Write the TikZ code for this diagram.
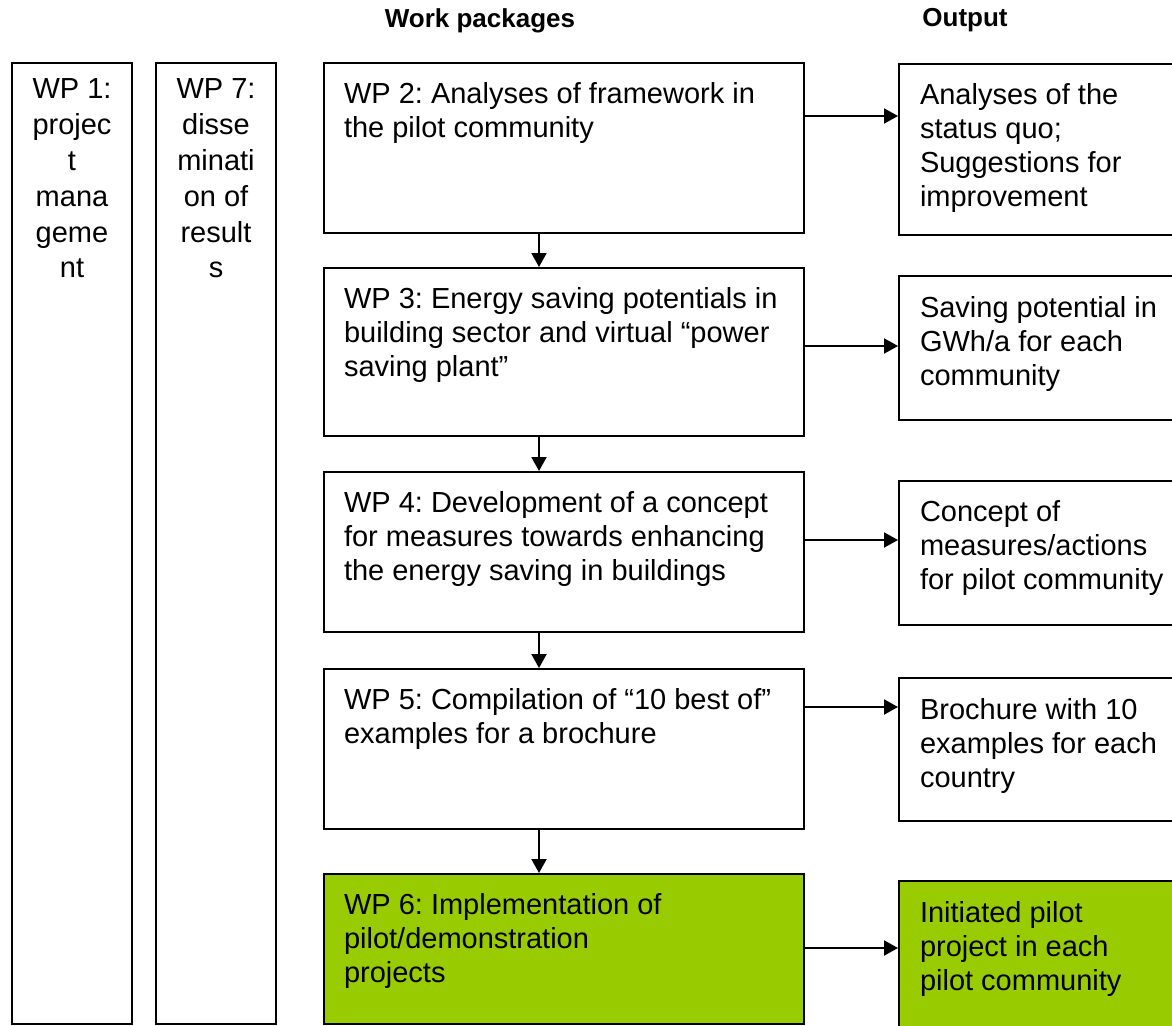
\documentclass[tikz,border=0pt]{standalone}
\usepackage{fontspec}
\setmainfont{Liberation Sans}
\usepackage{xcolor}
\usetikzlibrary{arrows.meta,positioning}
\definecolor{wpgreen}{RGB}{153,204,0}
\frenchspacing

\begin{document}
\begin{tikzpicture}[x=1pt, y=-1pt, line width=2pt,
    >={Triangle[length=14pt,width=15pt]},
    box/.style={draw, anchor=north west, inner sep=0pt},
    txt/.style={anchor=north west, inner sep=0pt, align=left, font=\fontsize{29}{34}\selectfont},
    coltxt/.style={anchor=north, inner sep=0pt, align=center, font=\fontsize{29}{35.8}\selectfont},
    head/.style={font=\fontsize{26}{30}\selectfont\bfseries}]

        \useasboundingbox (0,0) rectangle (1172,1025);

        % Headings
        \node[head] (hwp) at (480,20.5) {Work packages};
        \node[head] (hout) at (965,20.5) {Output};

        % Side columns
        \node[box, minimum width=120pt, minimum height=961pt] (wp1) at (11,62) {};
        \node[box, minimum width=120pt, minimum height=961pt] (wp7) at (155,62) {};
        \node[coltxt, below=16pt of wp1.north] (wp1t) {WP 1:\\projec\\t\\mana\\geme\\nt};
        \node[coltxt, below=16pt of wp7.north] (wp7t) {WP 7:\\disse\\minati\\on of\\result\\s};

        % Work packages
        \node[box, minimum width=480pt, minimum height=170pt] (wp2) at (323,62) {};
        \node[box, minimum width=480pt, minimum height=168pt] (wp3) at (323,267) {};
        \node[box, minimum width=480pt, minimum height=160pt] (wp4) at (323,471) {};
        \node[box, minimum width=480pt, minimum height=160pt] (wp5) at (323,668) {};
        \node[box, fill=wpgreen, minimum width=480pt, minimum height=150pt] (wp6) at (323,873) {};

        \node[txt, below right=19pt and 20pt of wp2.north west] (wp2t) {WP 2: Analyses of framework in\\the pilot community};
        \node[txt, below right=19pt and 20pt of wp3.north west] (wp3t) {WP 3: Energy saving potentials in\\building sector and virtual “power\\saving plant”};
        \node[txt, below right=19pt and 20pt of wp4.north west] (wp4t) {WP 4: Development of a concept\\for measures towards enhancing\\the energy saving in buildings};
        \node[txt, below right=19pt and 20pt of wp5.north west] (wp5t) {WP 5: Compilation of “10 best of”\\examples for a brochure};
        \node[txt, below right=19pt and 20pt of wp6.north west] (wp6t) {WP 6: Implementation of\\pilot/demonstration\\projects};

        % Outputs
        \node[box, minimum width=300pt, minimum height=171pt] (out2) at (898,63) {};
        \node[box, minimum width=300pt, minimum height=144pt] (out3) at (898,275) {};
        \node[box, minimum width=300pt, minimum height=144pt] (out4) at (898,480) {};
        \node[box, minimum width=300pt, minimum height=143pt] (out5) at (898,677) {};
        \node[box, fill=wpgreen, minimum width=300pt, minimum height=160pt] (out6) at (898,880) {};

        \node[txt, below right=19pt and 21pt of out2.north west] (out2t) {Analyses of the\\status quo;\\Suggestions for\\improvement};
        \node[txt, below right=20pt and 21pt of out3.north west] (out3t) {Saving potential in\\GWh/a for each\\community};
        \node[txt, below right=20pt and 21pt of out4.north west] (out4t) {Concept of\\measures/actions\\for pilot community};
        \node[txt, below right=20pt and 21pt of out5.north west] (out5t) {Brochure with 10\\examples for each\\country};
        \node[txt, below right=20pt and 21pt of out6.north west] (out6t) {Initiated pilot\\project in each\\pilot community};

        % Arrows down
        \draw[->] (wp2.south -| 539,0) -- (wp3.north -| 539,0);
        \draw[->] (wp3.south -| 539,0) -- (wp4.north -| 539,0);
        \draw[->] (wp4.south -| 539,0) -- (wp5.north -| 539,0);
        \draw[->] (wp5.south -| 539,0) -- (wp6.north -| 539,0);

        % Arrows to outputs
        \draw[->] (wp2.east |- 0,116) -- (out2.west |- 0,116);
        \draw[->] (wp3.east |- 0,346) -- (out3.west |- 0,346);
        \draw[->] (wp4.east |- 0,540) -- (out4.west |- 0,540);
        \draw[->] (wp5.east |- 0,707) -- (out5.west |- 0,707);
        \draw[->] (wp6.east |- 0,948) -- (out6.west |- 0,948);

    \end{tikzpicture}
\end{document}
